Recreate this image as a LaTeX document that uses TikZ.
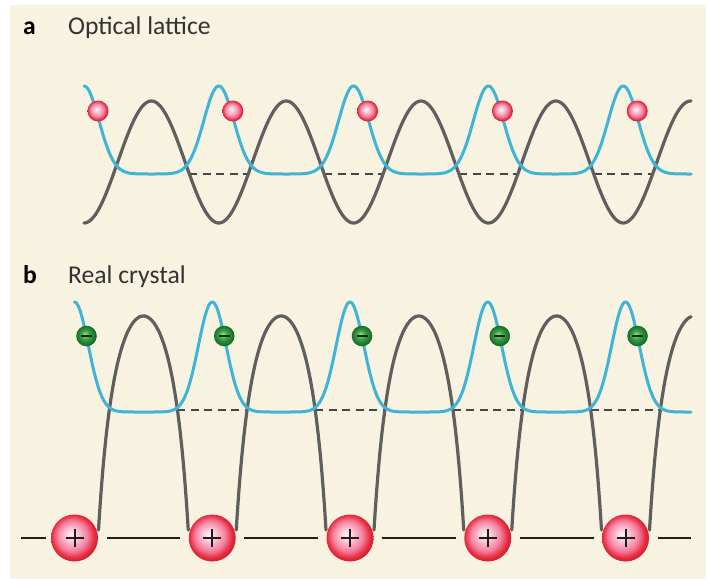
\documentclass[tikz,border=0pt]{standalone}
\usepackage{fontspec}
\setmainfont{Carlito}
\definecolor{cream}{RGB}{247,243,224}
\definecolor{bluec}{RGB}{64,180,214}
\definecolor{grayc}{RGB}{95,95,95}
\definecolor{dashcol}{RGB}{70,70,70}
\definecolor{linecol}{RGB}{30,30,30}
\definecolor{txtcol}{RGB}{50,50,50}
\definecolor{rHi}{RGB}{255,238,246}
\definecolor{rMid}{RGB}{244,128,158}
\definecolor{rRed}{RGB}{230,40,60}
\definecolor{rDark}{RGB}{208,28,48}
\definecolor{gHi}{RGB}{160,225,150}
\definecolor{gMid}{RGB}{60,165,70}
\definecolor{gDark}{RGB}{22,105,40}
\definecolor{minuscol}{RGB}{25,40,25}
\pgfdeclareradialshading{redball}{\pgfpoint{-4bp}{4bp}}{color(0bp)=(rHi); color(6bp)=(rHi!70!rMid); color(16bp)=(rMid); color(23bp)=(rRed); color(27bp)=(rDark); color(40bp)=(rDark)}
\pgfdeclareradialshading{greenball}{\pgfpoint{-4bp}{4bp}}{color(0bp)=(gHi); color(10bp)=(gMid); color(22bp)=(gDark!85!gMid); color(27bp)=(gDark); color(40bp)=(gDark)}
\begin{document}
\begin{tikzpicture}[x=1pt,y=-1pt,
  declare function={ga(\d)=exp(-(\d)*(\d)/450); gb(\d)=exp(-(\d)*(\d)/380);},
  lab/.style={font=\fontsize{25.6}{30}\selectfont\bfseries, text=black, inner sep=0, anchor=base west},
  ttl/.style={font=\fontsize{25.6}{30}\selectfont, text=txtcol, inner sep=0, anchor=base west},
  graycurve/.style={draw=grayc, line width=3.2pt, line cap=round, line join=round},
  bluecurve/.style={draw=bluec, line width=3pt, line cap=round, line join=round},
  dashline/.style={draw=dashcol, line width=2pt, dash pattern=on 8pt off 5.5pt},
  baseseg/.style={draw=linecol, line width=2.6pt},
  redsmall/.style={circle, inner sep=0, minimum size=21pt, shade, shading=redball},
  ionball/.style={circle, inner sep=0, minimum size=47pt, shade, shading=redball},
  greenball/.style={circle, inner sep=0, minimum size=20.6pt, shade, shading=greenball},
  pluspen/.style={draw=linecol, line width=2pt},
  minuspen/.style={draw=minuscol, line width=2.8pt}
]
\useasboundingbox (0,0) rectangle (707,579);
\fill[white] (0,0) rectangle (707,579);
\fill[cream] (10,5) rectangle (706,579);

% labels
\node[lab] (la) at (23,34.3) {a};
\node[ttl] (ta) at (68,34.3) {Optical lattice};
\node[lab] (lb) at (23,283.3) {b};
\node[ttl] (tb) at (68,283.3) {Real crystal};

% ---------------- panel a ----------------
\foreach \k in {1,...,4} {
  \pgfmathsetmacro\xs{84+\k*134.8-29.4}
  \pgfmathsetmacro\xe{84+\k*134.8+29.4}
  \draw[dashline] (\xs,174) -- (\xe,174);
}
\draw[graycurve] plot[domain=84:691, samples=400] (\x,{162+61*cos(2.670623*(\x-84))});
\draw[bluecurve] plot[domain=84:691, samples=500] (\x,{174-88*ga(mod(\x-84+67.4,134.8)-67.4)});
\foreach \k in {0,...,4} {
  \pgfmathsetmacro\bx{98+\k*134.8}
  \node[redsmall] (ra\k) at (\bx,111) {};
}

% ---------------- panel b ----------------
\foreach \k in {1,...,4} {
  \pgfmathsetmacro\xs{74.5+\k*137.75-35}
  \pgfmathsetmacro\xe{74.5+\k*137.75+35}
  \draw[dashline] (\xs,410) -- (\xe,410);
}
\foreach \k in {0,...,3} {
  \pgfmathsetmacro\xa{74.5+\k*137.75}
  \pgfmathsetmacro\xs{\xa+24}
  \pgfmathsetmacro\xe{\xa+137.75-24}
  \draw[graycurve] plot[domain=\xs:\xe, samples=160] (\x,{316+10000*(1/(\x-\xa)+1/(\xa+137.75-\x)-4/137.75)});
}
\pgfmathsetmacro\xa{74.5+4*137.75}
\pgfmathsetmacro\xs{\xa+24}
\draw[graycurve] plot[domain=\xs:691, samples=80] (\x,{316+10000*(1/(\x-\xa)+1/(\xa+137.75-\x)-4/137.75)});

\draw[bluecurve] plot[domain=74.5:691, samples=500] (\x,{412-110*gb(mod(\x-74.5+68.875,137.75)-68.875)});

% baseline segments
\draw[baseseg] (21,538) -- (45.5,538);
\foreach \k in {0,...,3} {
  \pgfmathsetmacro\xs{74.5+\k*137.75+32}
  \pgfmathsetmacro\xe{74.5+(\k+1)*137.75-32}
  \draw[baseseg] (\xs,538) -- (\xe,538);
}
\draw[baseseg] (657.5,538) -- (691,538);

% ions and electrons
\foreach \k in {0,...,4} {
  \pgfmathsetmacro\ix{74.5+\k*137.75}
  \pgfmathsetmacro\gx{86.5+\k*137.75}
  \node[ionball] (ion\k) at (\ix,538) {};
  \draw[pluspen] ([xshift=-9pt]ion\k.center) -- ([xshift=9pt]ion\k.center);
  \draw[pluspen] ([yshift=-9pt]ion\k.center) -- ([yshift=9pt]ion\k.center);
  \node[greenball] (el\k) at (\gx,336) {};
  \draw[minuspen] ([xshift=-5.5pt]el\k.center) -- ([xshift=5.5pt]el\k.center);
}
\end{tikzpicture}
\end{document}
